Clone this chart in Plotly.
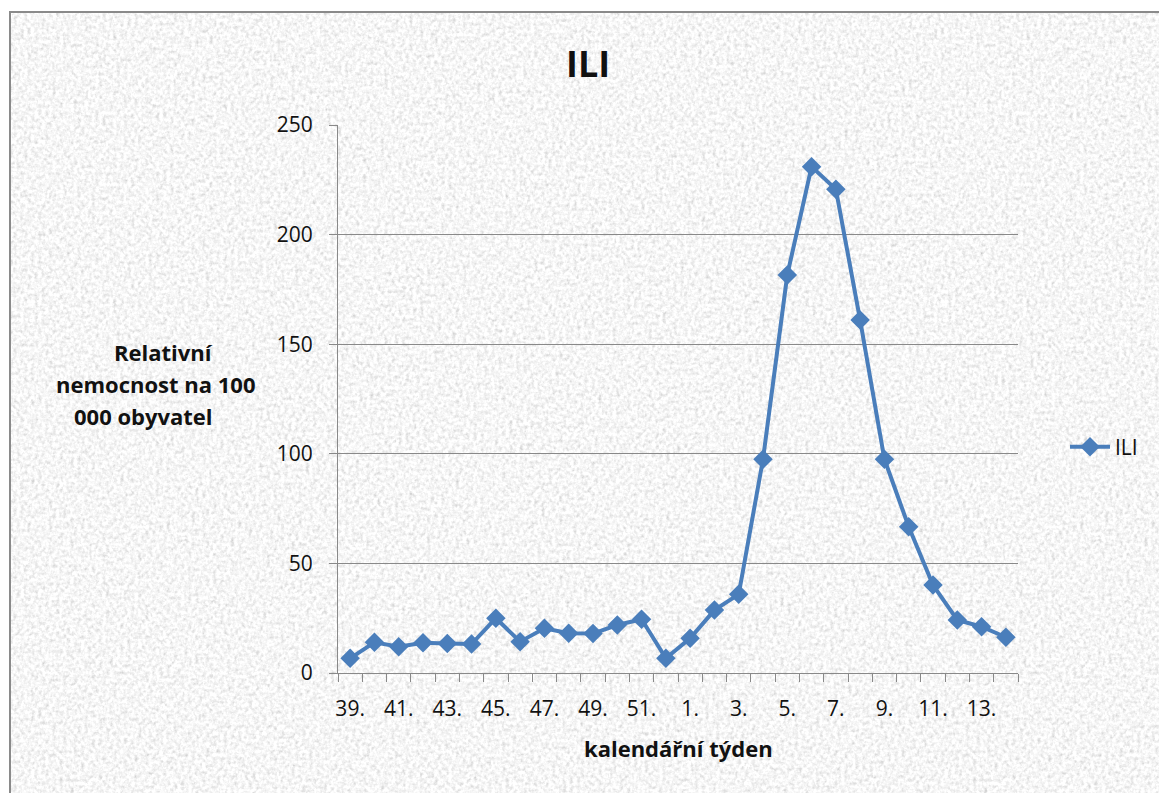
import base64
import plotly.graph_objects as go

# Calendar weeks (season 39/2012 - 14/2013) and ILI incidence per 100 000
weeks = ["39.", "40.", "41.", "42.", "43.", "44.", "45.", "46.", "47.", "48.",
         "49.", "50.", "51.", "52.", "1.", "2.", "3.", "4.", "5.", "6.",
         "7.", "8.", "9.", "10.", "11.", "12.", "13.", "14."]
ili = [6.7, 14.0, 12.0, 13.8, 13.5, 13.2, 25.0, 14.3, 20.4, 18.1,
       18.0, 21.9, 24.5, 6.7, 15.8, 28.7, 35.9, 97.5, 181.6, 231.0,
       220.7, 161.0, 97.5, 66.7, 40.1, 24.2, 21.1, 16.3]
y_ticks = [0, 50, 100, 150, 200, 250]

FONT = "'Open Sans', Lato, sans-serif"
BLUE = "#4A7EBB"
GRID = "#898989"
INK = "#111111"

W, H = 1159, 793
L, R, T, B = 338, 141, 125, 120
PW, PH = W - L - R, H - T - B


def px_x(x):
    return (x - L) / PW


def px_y(y):
    return (H - B - y) / PH


# granite-like paper texture for the chart area
texture_svg = (
    "<svg xmlns='http://www.w3.org/2000/svg' width='1149' height='781'>"
    "<filter id='t' x='0' y='0' width='100%' height='100%'>"
    "<feTurbulence type='fractalNoise' baseFrequency='0.28' numOctaves='3' seed='5' stitchTiles='stitch'/>"
    "<feColorMatrix type='matrix' values='0.33 0.33 0.33 0 0 0.33 0.33 0.33 0 0 0.33 0.33 0.33 0 0 0 0 0 0 1'/>"
    "<feComponentTransfer>"
    "<feFuncR type='linear' slope='1.1' intercept='0.38'/>"
    "<feFuncG type='linear' slope='1.1' intercept='0.38'/>"
    "<feFuncB type='linear' slope='1.1' intercept='0.38'/>"
    "</feComponentTransfer></filter>"
    "<rect width='100%' height='100%' filter='url(#t)'/></svg>"
)
texture_uri = "data:image/svg+xml;base64," + base64.b64encode(texture_svg.encode()).decode()

idx = list(range(len(weeks)))

fig = go.Figure()
fig.add_trace(go.Scatter(
    x=idx, y=ili, name="ILI", mode="lines+markers",
    line=dict(color=BLUE, width=4),
    marker=dict(symbol="diamond", size=15, color=BLUE),
))


def label(text, x, y, anchor="center", size=22):
    return dict(text=f"<b>{text}</b>", x=px_x(x), y=px_y(y),
                xref="paper", yref="paper", showarrow=False,
                xanchor=anchor, yanchor="middle",
                font=dict(size=size, family=FONT, color=INK))


fig.update_layout(
    width=W, height=H,
    margin=dict(l=L, r=R, t=T, b=B, pad=0),
    paper_bgcolor="white",
    plot_bgcolor="rgba(0,0,0,0)",
    font=dict(family=FONT, size=21, color=INK),
    showlegend=True,
    legend=dict(x=px_x(1065), y=px_y(447), xanchor="left", yanchor="middle",
                bgcolor="rgba(0,0,0,0)", font=dict(size=21, color=INK),
                itemwidth=40),
    images=[dict(source=texture_uri, xref="paper", yref="paper",
                 x=px_x(10), y=px_y(12), sizex=1149 / PW, sizey=781 / PH,
                 xanchor="left", yanchor="top", sizing="stretch", layer="below")],
    shapes=[dict(type="rect", xref="paper", yref="paper",
                 x0=px_x(10), y0=px_y(12), x1=px_x(1200), y1=px_y(830),
                 line=dict(color="#8a8a8a", width=2), layer="below")],
    xaxis=dict(
        range=[-0.5, len(weeks) - 0.5],
        tickmode="array", tickvals=idx[::2], ticktext=weeks[::2],
        ticks="", ticklabelstandoff=17,
        showgrid=False, zeroline=False,
        showline=True, linecolor=GRID, linewidth=1,
        minor=dict(tickmode="linear", tick0=-0.5, dtick=1, ticks="outside",
                   ticklen=8, tickcolor=GRID, tickwidth=1, showgrid=False),
        fixedrange=True,
    ),
    yaxis=dict(
        range=[0, 250], tickmode="array", tickvals=y_ticks,
        ticks="outside", ticklen=8, tickcolor=GRID, tickwidth=1,
        ticklabelstandoff=12,
        showgrid=True, gridcolor=GRID, gridwidth=1, zeroline=False,
        showline=True, linecolor=GRID, linewidth=1,
    ),
    annotations=[
        label("ILI", 588, 64, size=36),
        label("kalendářní týden", 678, 748),
        label("Relativní", 163, 352),
        label("nemocnost na 100", 155, 384),
        label("000 obyvatel", 143, 416),
    ],
)

fig.write_html("out.html")
